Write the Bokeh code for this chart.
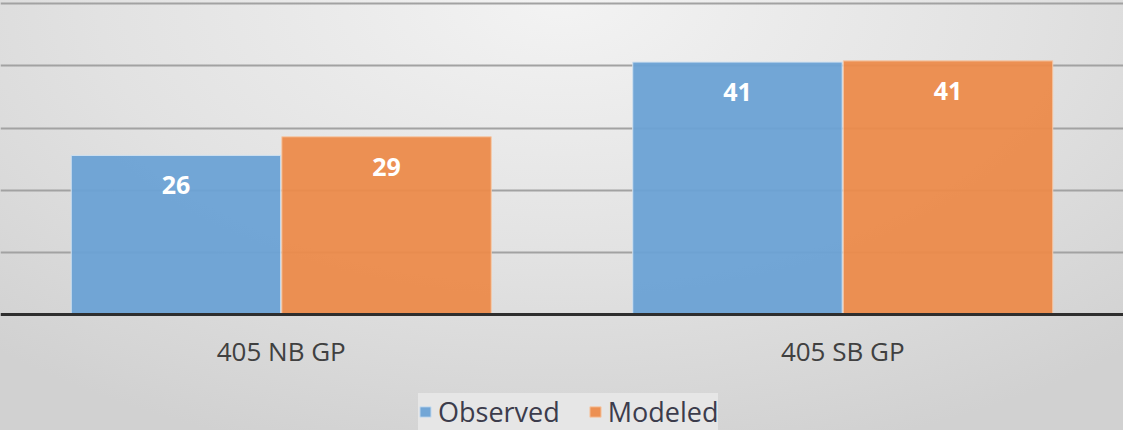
from bokeh.plotting import figure
from bokeh.models import ColumnDataSource, FactorRange, Range1d, LabelSet, Legend, LegendItem, FixedTicker
from bokeh.core.properties import value
from bokeh.transform import dodge
from bokeh.embed import file_html
from bokeh.resources import INLINE

categories = ["405 NB GP", "405 SB GP"]
observed = [25.6, 40.6]
modeled = [28.6, 40.8]
series_names = ["Observed", "Modeled"]
grid_ticks = [10, 20, 30, 40, 50]

BLUE = "#6aa1d5"
ORANGE = "#ec8a49"
FONT = "Open Sans"

src = ColumnDataSource(dict(
    cat=categories,
    obs=observed,
    mod=modeled,
    obs_lbl=[str(int(round(v))) for v in observed],
    mod_lbl=[str(int(round(v))) for v in modeled],
))

# frame covers the full figure; y=0 sits 314px below the top
p = figure(x_range=FactorRange(*categories, range_padding=0), y_range=Range1d(-18.6, 50.5),
           frame_width=1123, frame_height=430, output_backend="svg", toolbar_location=None,
           min_border_left=0, min_border_right=0, min_border_top=0, min_border_bottom=0)
p.styles = {"background": "radial-gradient(ellipse 75% 110% at 50% 0%, #f3f3f3 0%, #e2e2e2 55%, #d1d1d1 100%)"}
p.background_fill_alpha = 0
p.border_fill_alpha = 0
p.outline_line_color = None

bw = 0.373
r1 = p.vbar(x=dodge("cat", -0.1875, range=p.x_range), top="obs", width=bw, source=src,
            fill_color=BLUE, fill_alpha=0.94, line_color="#cfe0f0", line_width=1)
r2 = p.vbar(x=dodge("cat", 0.1875, range=p.x_range), top="mod", width=bw, source=src,
            fill_color=ORANGE, fill_alpha=0.94, line_color="#f5c9a8", line_width=1)

for xoff, col in ((-0.1875, "obs"), (0.1875, "mod")):
    p.add_layout(LabelSet(x=dodge("cat", xoff, range=p.x_range), y=col, text=col + "_lbl", source=src,
                          y_offset=-30, text_align="center", text_baseline="middle",
                          text_color="white", text_font=value(FONT), text_font_style="bold",
                          text_font_size="25px"))

p.yaxis.visible = False
p.xgrid.visible = False
p.ygrid.ticker = FixedTicker(ticks=grid_ticks)
p.ygrid.grid_line_color = "#a2a2a2"
p.ygrid.grid_line_width = 2

xa = p.xaxis[0]
xa.fixed_location = 0
xa.axis_line_color = "#2e2e2e"
xa.axis_line_width = 3
xa.major_tick_line_color = None
xa.minor_tick_line_color = None
xa.major_label_text_font = FONT
xa.major_label_text_font_size = "26px"
xa.major_label_text_color = "#404040"
xa.major_label_standoff = 12

legend = Legend(items=[LegendItem(label=series_names[0], renderers=[r1]),
                       LegendItem(label=series_names[1], renderers=[r2])],
                orientation="horizontal", location=(418, 0),
                background_fill_color="#e8e8e8", background_fill_alpha=0.9,
                border_line_color=None, label_text_font=FONT, label_text_font_size="27px",
                label_text_color="#3c3c4c", glyph_width=14, glyph_height=13,
                label_standoff=6, spacing=28, padding=8, margin=0)
p.add_layout(legend, "center")

open("out.html", "w").write(file_html(p, INLINE))
